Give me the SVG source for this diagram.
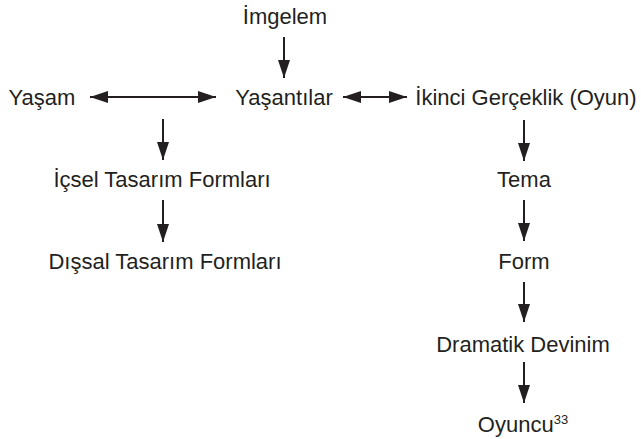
<svg xmlns="http://www.w3.org/2000/svg" width="641" height="439" viewBox="0 0 641 439">
<style>
text{font-family:"Liberation Sans",Arial,sans-serif;font-size:22px;fill:#231f20;text-anchor:middle}
.c line{stroke:#231f20;stroke-width:2}
.sup{font-size:13px}
</style>
<defs>
<marker id="ah" markerUnits="userSpaceOnUse" markerWidth="19" markerHeight="13" refX="18" refY="6" orient="auto-start-reverse">
<path d="M0,0 L18,6 L0,12 Z" fill="#231f20"/>
</marker>
</defs>
<rect width="641" height="439" fill="#fff"/>
<g id="n-imgelem"><text x="285" y="24">İmgelem</text></g>
<g id="n-yasam"><text x="42" y="105">Yaşam</text></g>
<g id="n-yasantilar"><text x="284" y="105">Yaşantılar</text></g>
<g id="n-ikinci"><text x="526" y="105">İkinci Gerçeklik (Oyun)</text></g>
<g id="n-icsel"><text x="162" y="187">İçsel Tasarım Formları</text></g>
<g id="n-dissal"><text x="165" y="269">Dışsal Tasarım Formları</text></g>
<g id="n-tema"><text x="524" y="187">Tema</text></g>
<g id="n-form"><text x="524" y="269">Form</text></g>
<g id="n-dramatik"><text x="523" y="352">Dramatik Devinim</text></g>
<g id="n-oyuncu"><text x="523" y="432">Oyuncu<tspan class="sup" dy="-8">33</tspan></text></g>
<g class="c" id="connectors">
<line x1="284" y1="37" x2="284" y2="78" marker-end="url(#ah)"/>
<line x1="90" y1="97" x2="216" y2="97" marker-start="url(#ah)" marker-end="url(#ah)"/>
<line x1="343" y1="97" x2="407" y2="97" marker-start="url(#ah)" marker-end="url(#ah)"/>
<line x1="163" y1="119" x2="163" y2="160" marker-end="url(#ah)"/>
<line x1="163" y1="200" x2="163" y2="242" marker-end="url(#ah)"/>
<line x1="524" y1="120" x2="524" y2="161" marker-end="url(#ah)"/>
<line x1="524" y1="200" x2="524" y2="241" marker-end="url(#ah)"/>
<line x1="524" y1="282" x2="524" y2="322" marker-end="url(#ah)"/>
<line x1="524" y1="362" x2="524" y2="403" marker-end="url(#ah)"/>
</g>
</svg>
